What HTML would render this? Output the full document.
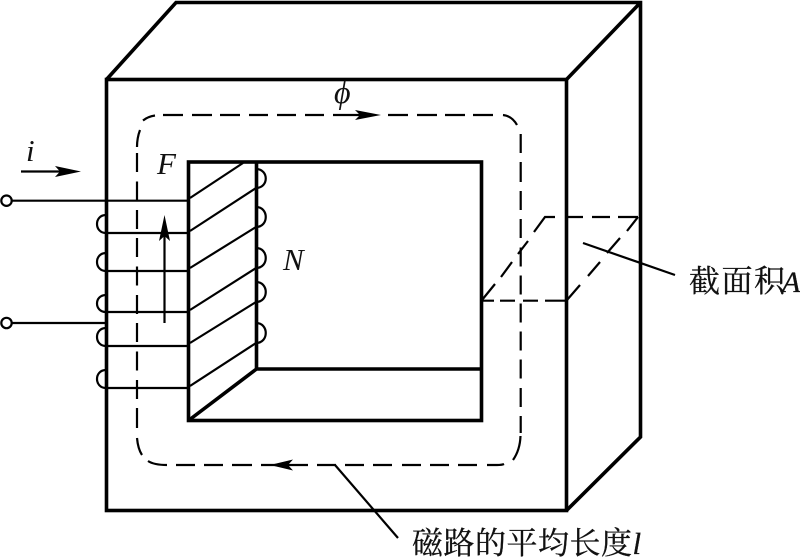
<!DOCTYPE html>
<html>
<head>
<meta charset="utf-8">
<style>
html,body{margin:0;padding:0;background:#fff;width:800px;height:558px;overflow:hidden}
svg{display:block}
text{fill:#111}
.cjk{font-family:"Liberation Serif","Noto Serif CJK SC",serif;font-size:31px;stroke:#111;stroke-width:.3}
.it{font-family:"Liberation Serif","Noto Serif CJK SC",serif;font-style:italic}
</style>
</head>
<body>
<svg width="800" height="558" viewBox="0 0 800 558" xmlns="http://www.w3.org/2000/svg">
<g fill="none" stroke="#000" stroke-width="3.6" stroke-linejoin="miter">
<rect x="106.5" y="79.5" width="460" height="431"/>
<path d="M106.5 79.5L176 2.5H640.5V437L566.5 510.5M566.5 79.5L640.5 2.5"/>
<rect x="188.5" y="162" width="293" height="258.5"/>
<path d="M256.5 162V369H481.5M256.5 369L188.5 420.5"/>
</g>
<g fill="none" stroke="#000" stroke-width="2.2">
<path d="M12 200.7H188M12 323H106M106 233H188M106 271H188M106 312H188M106 346H188M106 388H188"/>
<path d="M190 198L243 163M190 231L256 188M190 268L256 227M190 310L256 268M190 343L256 302M190 386L256 343"/>
<path d="M106 215C94 215 94 233 106 233M106 253C94 253 94 271 106 271M106 295C94 295 94 312 106 312M106 328C94 328 94 346 106 346M106 370C94 370 94 388 106 388"/>
<path d="M256 169C269 169 269 188 256 188M256 207C269 207 269 227 256 227M256 248C269 248 269 268 256 268M256 282C269 282 269 302 256 302M256 323C269 323 269 343 256 343"/>
<circle cx="6.5" cy="200.7" r="5.2" fill="#fff"/>
<circle cx="6.5" cy="323" r="5.2" fill="#fff"/>
<path d="M164.5 323V235M21 171.5H65"/>
<path d="M335 465L398 538M583 243L675 275"/>
</g>
<g fill="none" stroke="#000" stroke-width="2.2">
<path d="M163 115H183M192 115H212M220 115H240M249 115H268M277 115H296M305 115H324M333 115H365M388 115H408M417 115H437M445 115H465M473 115H493"/>
<path d="M155 115.5Q148 116.5 143 120.5M140 130Q137 138 137 147M503 115Q512 116 517 125M520.5 436Q520 450 513 460M137 438Q138 449 142 455M148 461Q154 465 167 465"/>
<path d="M137 153V172M137 181.5V200.5M137 210V229M137 238V257M137 266.5V285.5M137 295V314M137 323V342M137 351.5V370.5M137 380V399M137 408V428"/>
<path d="M520.7 134V153M520.7 162V182M520.7 191V210M520.7 219V238M520.7 247.5V266.5M520.7 275.5V294.5M520.7 303.5V322.5M520.7 331.5V350.5M520.7 359.5V378.5M520.7 388V407M520.7 416V433"/>
<path d="M176 465H195M204 465H223M232 465H252M261 465H308M317 465H336M345 465H364M373 465H392M402 465H421M430 465H449M458 465H477M487 465H497Q502 465 504 464"/>
<path d="M482 300.7H494M500 300.7H515M523 300.7H538M545 300.7H565"/>
<path d="M482 300L495 284M501 277L512 262M518 254L528 241M534 232L545 217H555M567 217H583M592 217H610M618 217H638"/>
<path d="M567 300L580 285M588 276L600 262M607 253L620 238M627 231L638 217"/>
</g>
<g fill="#000" stroke="none">
<path d="M164.5 215L170 241L164.5 236L159 241Z"/>
<path d="M81 171.5L55 166L60 171.5L55 177Z"/>
<path d="M381 115L355 110L360 115L355 120Z"/>
<path d="M270 465L293 459.5L288 465L293 470.5Z"/>
</g>
<text class="it" x="26" y="161" font-size="31">i</text>
<text class="it" x="157" y="174" font-size="31">F</text>
<text class="it" x="283" y="270" font-size="31">N</text>
<text class="it" x="334" y="103" font-size="32">ϕ</text>
<text class="cjk" x="689" y="292" letter-spacing="1.5">截面积</text>
<text class="cjk it" x="782" y="292" font-size="30" style="font-size:30px;font-style:italic">A</text>
<text class="cjk" x="412" y="554" letter-spacing="0.5">磁路的平均长度<tspan font-style="italic">l</tspan></text>
</svg>
</body>
</html>
